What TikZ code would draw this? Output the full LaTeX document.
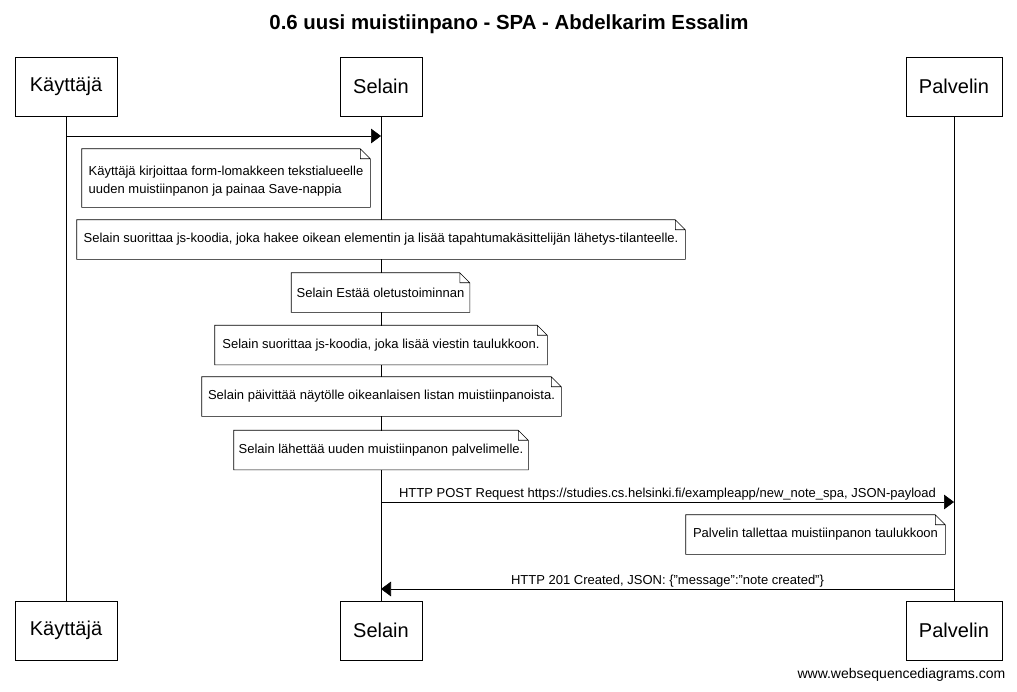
\documentclass[tikz,border=0pt]{standalone}
\usepackage{fontspec}
\setmainfont{Liberation Sans}
\usepackage{tikz}
\usetikzlibrary{calc,arrows.meta}

\tikzset{
    actor/.style={draw, fill=white, inner sep=0pt, minimum height=44.25pt,
        font=\fontsize{15}{18}\selectfont},
    note/.style={fill=white, inner sep=0pt, minimum height=29.25pt,
        font=\fontsize{9.75}{13.5}\selectfont},
    msg/.style={-{Triangle[length=7.5pt,width=11pt]}, thin},
    msglabel/.style={above=1pt, inner sep=0.5pt, font=\fontsize{9.75}{12}\selectfont}
}

\begin{document}
\begin{tikzpicture}[x=0.75pt, y=-0.75pt, thin, black]

    \useasboundingbox (0,0) rectangle (1017,692);

    %title
    \node (title) at (509,24) {\fontsize{15.3}{18}\selectfont\bfseries 0.6 uusi muistiinpano - SPA - Abdelkarim Essalim};

    %actors
    \node[actor, minimum width=76.5pt] (k1) at (66,86.5) {Käyttäjä};
    \node[actor, minimum width=61.5pt] (s1) at (381,86.5) {Selain};
    \node[actor, minimum width=72pt] (p1) at (954,86.5) {Palvelin};
    \node[actor, minimum width=76.5pt] (k2) at (66,630.5) {Käyttäjä};
    \node[actor, minimum width=61.5pt] (s2) at (381,630.5) {Selain};
    \node[actor, minimum width=72pt] (p2) at (954,630.5) {Palvelin};

    %lifelines
    \draw (k1) -- (k2);
    \draw (s1) -- (s2);
    \draw (p1) -- (p2);

    %messages
    \coordinate (m1) at (0,136);
    \coordinate (m2) at (0,502);
    \coordinate (m3) at (0,589);
    \draw[msg] (k1 |- m1) -- (s1 |- m1);
    \draw[msg] (s1 |- m2) -- node[msglabel] {HTTP POST Request https://studies.cs.helsinki.fi/exampleapp/new\_note\_spa, JSON-payload} (p1 |- m2);
    \draw[msg] (p1 |- m3) -- node[msglabel] {HTTP 201 Created, JSON: \{\char34 message\char34:\char34 note created\char34\}} (s1 |- m3);

    %notes
    \node[note, minimum width=216pt, minimum height=43.5pt, align=left] (n1) at (226,178)
    {\rule{0pt}{12pt}Käyttäjä kirjoittaa form-lomakkeen tekstialueelle\\uuden muistiinpanon ja painaa Save-nappia};
    \node[note, minimum width=456pt] (n2) at (381,239.5)
    {Selain suorittaa js-koodia, joka hakee oikean elementin ja lisää tapahtumakäsittelijän lähetys-tilanteelle.};
    \node[note, minimum width=133.5pt] (n3) at (380.5,292.5) {Selain Estää oletustoiminnan};
    \node[note, minimum width=249pt] (n4) at (381,345) {Selain suorittaa js-koodia, joka lisää viestin taulukkoon.};
    \node[note, minimum width=269.25pt] (n5) at (381.5,396.5) {Selain päivittää näytölle oikeanlaisen listan muistiinpanoista.};
    \node[note, minimum width=220.5pt] (n6) at (381,450) {Selain lähettää uuden muistiinpanon palvelimelle.};
    \node[note, minimum width=194.25pt] (n7) at (815.5,534.5) {Palvelin tallettaa muistiinpanon taulukkoon};

    %folded corners
    \foreach \n in {n1,n2,n3,n4,n5,n6,n7}
    \draw (\n.south west) -- (\n.south east) -- ([yshift=-7.5pt]\n.north east)
        -- ([xshift=-7.5pt]\n.north east) -- (\n.north west) -- cycle
        ([xshift=-7.5pt]\n.north east) |- ([yshift=-7.5pt]\n.north east);

    %footer
    \node[anchor=south east, font=\fontsize{10.5}{12}\selectfont] (web) at (1010,686) {www.websequencediagrams.com};

\end{tikzpicture}
\end{document}
